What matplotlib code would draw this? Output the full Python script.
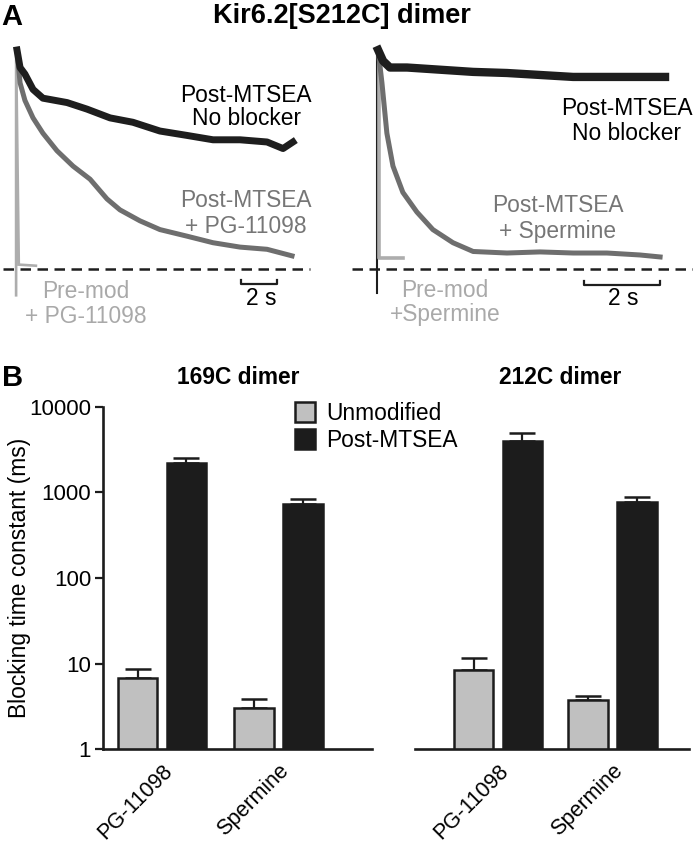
import matplotlib
matplotlib.use("Agg")
import matplotlib.pyplot as plt
import numpy as np
from matplotlib.patches import Patch
from matplotlib.ticker import FixedLocator, FixedFormatter, NullLocator

plt.rcParams['font.family'] = ['Liberation Sans', 'DejaVu Sans']

# ---------------- data: panel A traces (time in s, current normalised to peak) -------------
left_t_black = [0, 0.17, 0.44, 0.89, 1.44, 2.78, 3.89, 5.17, 6.44, 7.94, 9.44, 10.89, 12.39, 13.89, 14.78, 15.33]
left_i_black = [1.0, 0.92, 0.89, 0.82, 0.78, 0.76, 0.73, 0.69, 0.67, 0.63, 0.61, 0.59, 0.59, 0.58, 0.55, 0.58]

left_t_gray = [0, 0.17, 0.44, 0.89, 1.44, 2.22, 3.11, 4.06, 5.0, 5.72, 6.83, 7.94, 9.44, 10.89, 12.39, 13.89, 15.28]
left_i_gray = [1.0, 0.85, 0.77, 0.69, 0.62, 0.54, 0.47, 0.41, 0.32, 0.27, 0.22, 0.18, 0.15, 0.12, 0.10, 0.09, 0.06]

left_t_pre = [-0.05, -0.05, 0.10, 1.05]
left_i_pre = [-0.12, 1.0, 0.02, 0.015]

right_t_black = [0.03, 0.16, 0.34, 0.79, 1.66, 2.53, 3.42, 4.29, 5.16, 6.05, 6.92, 7.58]
right_i_black = [1.0, 0.95, 0.92, 0.92, 0.91, 0.90, 0.895, 0.886, 0.877, 0.877, 0.877, 0.877]

right_t_gray = [0.03, 0.13, 0.26, 0.42, 0.68, 1.05, 1.47, 2.0, 2.53, 3.42, 4.29, 5.16, 6.05, 6.92, 7.45]
right_i_gray = [1.0, 0.85, 0.62, 0.47, 0.35, 0.26, 0.18, 0.12, 0.08, 0.073, 0.078, 0.073, 0.073, 0.064, 0.055]

right_t_pre = [0.06, 0.06, 0.68]
right_i_pre = [1.0, 0.05, 0.05]

right_t_step = [0.0, 0.0]
right_i_step = [-0.11, 1.01]

scalebar_s = 2.0
left_scalebar_start = 12.44
right_scalebar_start = 5.45

# ---------------- data: panel B bars ----------------
categories = ['PG-11098', 'Spermine']
unmod_169 = [6.75, 3.04]
unmod_169_err = [1.8, 0.79]
post_169 = [2220, 736]
post_169_err = [280, 94]
unmod_212 = [8.33, 3.74]
unmod_212_err = [3.37, 0.40]
post_212 = [4010, 764]
post_212_err = [920, 117]
y_ticks = [1, 10, 100, 1000, 10000]
y_tick_labels = ['1', '10', '100', '1000', '10000']

# ---------------- layout helpers ----------------
W, H = 693, 849
fig = plt.figure(figsize=(W / 100, H / 100), dpi=100)


def fx(x):
    return x / W


def fy(y):
    return 1 - y / H


def px_axes(x0, y0, x1, y1):
    return fig.add_axes([x0 / W, 1 - y1 / H, (x1 - x0) / W, (y1 - y0) / H])


BLACK_TR = '#1e1e1e'
GRAY_TR = '#6e6e6e'
LIGHT_TR = '#adadad'
GRAY_TXT = '#767676'
LIGHT_TXT = '#a9a9a9'

# ---- trace axes: pixel mapping (x px for t=0, px per second), (y px of zero, px per unit) ----
zero_y, unit_px = 269, 219
box_top, box_bot = 35, 340


def trace_axes(x0, x1, t0_px, px_per_s):
    ax = px_axes(x0, box_top, x1, box_bot)
    ax.set_xlim((x0 - t0_px) / px_per_s, (x1 - t0_px) / px_per_s)
    ax.set_ylim((zero_y - box_bot) / unit_px, (zero_y - box_top) / unit_px)
    ax.axis('off')
    return ax


axL = trace_axes(0, 345, 17, 18)
axR = trace_axes(345, 693, 377, 38)

dash_kw = dict(color=BLACK_TR, lw=1.8, dashes=(4.2, 2.6))
# left panel
axL.plot([(3 - 17) / 18, (310 - 17) / 18], [0, 0], **dash_kw)
axL.plot(left_t_pre, left_i_pre, color=LIGHT_TR, lw=1.9, solid_joinstyle='miter')
axL.plot(left_t_gray, left_i_gray, color=GRAY_TR, lw=3.6)
axL.plot(left_t_black, left_i_black, color=BLACK_TR, lw=5.0)
sb_y = -0.068
tick_h = 0.018
axL.plot([left_scalebar_start, left_scalebar_start, left_scalebar_start + scalebar_s,
          left_scalebar_start + scalebar_s],
         [sb_y + tick_h, sb_y, sb_y, sb_y + tick_h], color=BLACK_TR, lw=1.6)

# right panel
axR.plot([(352 - 377) / 38, (693 - 377) / 38], [0, 0], **dash_kw)
axR.plot(right_t_step, right_i_step, color=BLACK_TR, lw=1.5)
axR.plot(right_t_pre, right_i_pre, color=LIGHT_TR, lw=2.6)
axR.plot(right_t_gray, right_i_gray, color=GRAY_TR, lw=3.6)
axR.plot(right_t_black, right_i_black, color=BLACK_TR, lw=6.0)
sb_y = -0.073
axR.plot([right_scalebar_start, right_scalebar_start, right_scalebar_start + scalebar_s,
          right_scalebar_start + scalebar_s],
         [sb_y + tick_h, sb_y, sb_y, sb_y + tick_h], color=BLACK_TR, lw=1.6)

FS = 16.4


def ftext(x, y, s, **kw):
    kw.setdefault('ha', 'center')
    kw.setdefault('va', 'baseline')
    kw.setdefault('fontsize', FS)
    fig.text(fx(x), fy(y), s, **kw)


ftext(1, 25, 'A', ha='left', fontsize=21, fontweight='bold')
ftext(342, 23, 'Kir6.2[S212C] dimer', fontsize=19.5, fontweight='bold')

ftext(246, 102, 'Post-MTSEA', color='black')
ftext(246, 125, 'No blocker', color='black')
ftext(246, 207, 'Post-MTSEA', color=GRAY_TXT)
ftext(246, 233, '+ PG-11098', color=GRAY_TXT)
ftext(86, 298, 'Pre-mod', color=LIGHT_TXT)
ftext(86, 323, '+ PG-11098', color=LIGHT_TXT)
ftext(261, 305, '2 s')

ftext(627, 115, 'Post-MTSEA', color='black')
ftext(627, 140, 'No blocker', color='black')
ftext(558, 212, 'Post-MTSEA', color=GRAY_TXT)
ftext(558, 238, '+ Spermine', color=GRAY_TXT)
ftext(445, 297, 'Pre-mod', color=LIGHT_TXT)
ftext(445, 321, '+Spermine', color=LIGHT_TXT)
ftext(623, 305, '2 s')

ftext(2, 386, 'B', ha='left', fontsize=21, fontweight='bold')
ftext(238, 384, '169C dimer', fontweight='bold')
ftext(560, 384, '212C dimer', fontweight='bold')

# ---------------- panel B ----------------
BAR_GRAY = '#c0c0c0'
BAR_BLACK = '#1c1c1c'
ax_top, ax_bot = 406.8, 749.2


def bar_axes(x0, x1, c0_px, spacing_px, unmod, unmod_err, post, post_err, left_spine):
    ax = px_axes(x0, ax_top, x1, ax_bot)
    ax.set_yscale('log')
    ax.set_ylim(1, 10000)
    ax.set_xlim((x0 - c0_px) / spacing_px, (x1 - c0_px) / spacing_px)
    pos = np.arange(len(categories))
    off = 24.3 / spacing_px
    w = 39.5 / spacing_px
    ax.errorbar(pos - off, unmod, yerr=[np.zeros(len(unmod)), unmod_err], fmt='none',
                ecolor=BAR_BLACK, elinewidth=1.6, capsize=9.7, capthick=1.8, zorder=1)
    ax.errorbar(pos + off, post, yerr=[np.zeros(len(post)), post_err], fmt='none',
                ecolor=BAR_BLACK, elinewidth=1.6, capsize=9.7, capthick=1.8, zorder=1)
    ax.bar(pos - off, unmod, width=w, color=BAR_GRAY, edgecolor=BAR_BLACK,
           linewidth=1.8, zorder=2, label='Unmodified')
    ax.bar(pos + off, post, width=w, color=BAR_BLACK, edgecolor=BAR_BLACK,
           linewidth=1.8, zorder=2, label='Post-MTSEA')
    ax.set_ylim(1, 10000)
    for s in ['top', 'right']:
        ax.spines[s].set_visible(False)
    ax.spines['bottom'].set_linewidth(1.9)
    ax.spines['bottom'].set_color(BAR_BLACK)
    ax.spines['bottom'].set_zorder(3)
    ax.set_xticks(pos)
    ax.set_xticklabels(categories, rotation=45, ha='right', va='top',
                       rotation_mode='anchor', fontsize=15.5)
    ax.tick_params(axis='x', length=0, pad=8)
    if left_spine:
        ax.spines['left'].set_linewidth(1.9)
        ax.spines['left'].set_color(BAR_BLACK)
        ax.yaxis.set_major_locator(FixedLocator(y_ticks))
        ax.yaxis.set_major_formatter(FixedFormatter(y_tick_labels))
        ax.yaxis.set_minor_locator(NullLocator())
        ax.tick_params(axis='y', length=6, width=1.6, pad=2.5, labelsize=16, color=BAR_BLACK)
        ax.set_ylabel('Blocking time constant (ms)', fontsize=16.4)
        ax.yaxis.set_label_coords((31 - x0) / (x1 - x0), 0.5)
    else:
        ax.spines['left'].set_visible(False)
        ax.yaxis.set_major_locator(NullLocator())
        ax.yaxis.set_minor_locator(NullLocator())
    return ax


ax169 = bar_axes(103, 372, 162, 116.5, unmod_169, unmod_169_err, post_169, post_169_err, True)
ax212 = bar_axes(415, 689, 498, 114.5, unmod_212, unmod_212_err, post_212, post_212_err, False)

handles = [Patch(facecolor=BAR_GRAY, edgecolor=BAR_BLACK, linewidth=1.8),
           Patch(facecolor=BAR_BLACK, edgecolor=BAR_BLACK, linewidth=1.8)]
fig.legend(handles, ['Unmodified', 'Post-MTSEA'], loc='upper left',
           bbox_to_anchor=(fx(295), fy(402)), frameon=False, fontsize=FS,
           handlelength=0.87, handleheight=1.0, handletextpad=0.5,
           labelspacing=0.16, borderpad=0, borderaxespad=0)

fig.savefig('out.png', dpi=100)
